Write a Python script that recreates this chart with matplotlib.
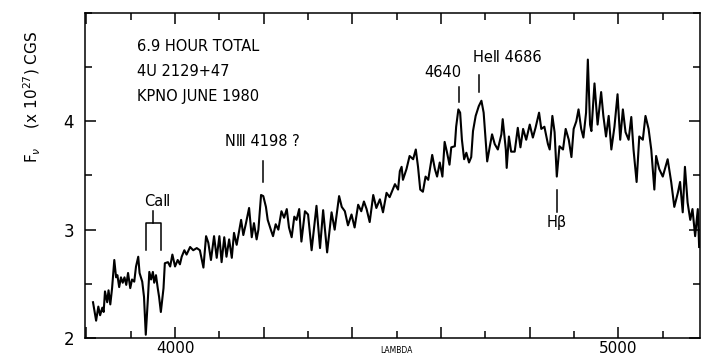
import numpy as np
import matplotlib
matplotlib.use("Agg")
import matplotlib.pyplot as plt
from matplotlib.ticker import MultipleLocator, FixedLocator

# spectrum: wavelength (A) and flux (x 1e27 cgs)
wave = [3815, 3822, 3827, 3831, 3836, 3839, 3842, 3847, 3850, 3854,
        3858, 3863, 3867, 3870, 3874, 3878, 3882, 3886, 3890, 3894,
        3899, 3903, 3908, 3912, 3917, 3920, 3926, 3930, 3934, 3939,
        3942, 3946, 3950, 3953, 3957, 3961, 3964, 3968, 3974, 3977,
        3984, 3989, 3994, 4000, 4006, 4011, 4015, 4021, 4026, 4034,
        4041, 4049, 4056, 4064, 4070, 4075, 4081, 4088, 4094, 4100,
        4105, 4111, 4116, 4122, 4128, 4133, 4139, 4149, 4154, 4160,
        4167, 4173, 4178, 4184, 4188, 4194, 4199, 4205, 4209, 4216,
        4221, 4227, 4233, 4240, 4246, 4252, 4257, 4263, 4269, 4274,
        4280, 4285, 4293, 4300, 4308, 4319, 4327, 4334, 4343, 4353,
        4360, 4370, 4376, 4383, 4390, 4398, 4405, 4413, 4420, 4426,
        4432, 4439, 4447, 4454, 4462, 4469, 4477, 4484, 4489, 4496,
        4503, 4507, 4511, 4514, 4522, 4529, 4537, 4543, 4548, 4553,
        4559, 4565, 4571, 4580, 4586, 4591, 4597, 4603, 4608, 4613,
        4619, 4623, 4631, 4634, 4639, 4643, 4647, 4652, 4657, 4663,
        4668, 4672, 4678, 4685, 4691, 4696, 4700, 4704, 4710, 4715,
        4721, 4728, 4736, 4739, 4746, 4748, 4753, 4758, 4766, 4773,
        4779, 4785, 4792, 4800, 4807, 4813, 4821, 4826, 4833, 4841,
        4845, 4851, 4856, 4861, 4867, 4875, 4881, 4888, 4894, 4899,
        4905, 4910, 4916, 4921, 4927, 4931, 4936, 4939, 4946, 4953,
        4961, 4966, 4972, 4978, 4984, 4991, 4998, 5004, 5010, 5016,
        5023, 5029, 5034, 5041, 5047, 5055, 5061, 5068, 5074, 5081,
        5085, 5092, 5100, 5111, 5119, 5126, 5134, 5139, 5145, 5150,
        5156, 5162, 5167, 5173, 5179, 5182]
flux = [2.33, 2.16, 2.29, 2.21, 2.28, 2.24, 2.43, 2.33, 2.44, 2.31,
        2.46, 2.72, 2.56, 2.58, 2.47, 2.56, 2.51, 2.56, 2.49, 2.60,
        2.46, 2.54, 2.52, 2.66, 2.75, 2.60, 2.52, 2.38, 2.03, 2.38,
        2.61, 2.54, 2.61, 2.51, 2.58, 2.46, 2.38, 2.24, 2.46, 2.69,
        2.70, 2.66, 2.77, 2.66, 2.72, 2.68, 2.75, 2.81, 2.77, 2.84,
        2.81, 2.83, 2.81, 2.65, 2.94, 2.88, 2.72, 2.94, 2.74, 2.94,
        2.70, 2.93, 2.75, 2.91, 2.74, 2.97, 2.86, 3.09, 2.95, 3.06,
        3.20, 2.93, 3.06, 2.91, 3.00, 3.32, 3.31, 3.21, 3.09, 3.00,
        2.94, 3.05, 3.00, 3.17, 3.11, 3.19, 3.02, 2.93, 3.12, 3.09,
        3.19, 2.89, 3.17, 3.14, 2.81, 3.22, 2.83, 3.18, 2.79, 3.16,
        3.00, 3.31, 3.21, 3.17, 3.04, 3.14, 3.02, 3.23, 3.17, 3.26,
        3.19, 3.07, 3.32, 3.20, 3.28, 3.16, 3.34, 3.30, 3.35, 3.42,
        3.37, 3.54, 3.58, 3.46, 3.56, 3.68, 3.65, 3.74, 3.58, 3.37,
        3.35, 3.49, 3.46, 3.69, 3.56, 3.49, 3.62, 3.49, 3.81, 3.72,
        3.60, 3.76, 3.77, 3.95, 4.11, 4.08, 3.83, 3.65, 3.71, 3.62,
        3.67, 3.91, 4.05, 4.14, 4.19, 4.08, 3.86, 3.63, 3.77, 3.88,
        3.79, 3.74, 3.88, 4.02, 3.74, 3.57, 3.86, 3.72, 3.72, 3.94,
        3.76, 3.93, 3.83, 3.97, 3.85, 3.94, 4.08, 3.93, 3.95, 3.79,
        3.74, 4.05, 3.90, 3.49, 3.77, 3.74, 3.93, 3.83, 3.67, 3.93,
        4.00, 4.11, 3.93, 3.85, 4.08, 4.57, 3.97, 3.91, 4.35, 3.97,
        4.27, 4.05, 3.86, 4.05, 3.74, 3.95, 4.25, 3.83, 4.11, 3.90,
        3.83, 4.04, 3.74, 3.44, 3.86, 3.83, 4.05, 3.93, 3.74, 3.37,
        3.68, 3.56, 3.49, 3.65, 3.44, 3.21, 3.34, 3.44, 3.16, 3.58,
        3.25, 3.09, 3.19, 2.94, 3.19, 2.84]

info_lines = ["6.9 HOUR TOTAL", "4U 2129+47", "KPNO JUNE 1980"]
ca_lines = [3934, 3968]

fig = plt.figure(figsize=(7.01, 3.58), dpi=100)
ax = fig.add_axes([0.1213, 0.0559, 0.8773, 0.9078])

ax.plot(wave, flux, color="black", lw=1.5)

ax.set_xlim(3797, 5184)
ax.set_ylim(2, 5)

ax.xaxis.set_major_locator(MultipleLocator(200))
ax.xaxis.set_minor_locator(MultipleLocator(100))
ax.yaxis.set_major_locator(FixedLocator([2, 3, 4]))
ax.yaxis.set_minor_locator(MultipleLocator(0.5))
ax.tick_params(which="both", direction="in", top=True, right=True, width=1.1)
ax.tick_params(which="major", length=8, labelsize=12)
ax.tick_params(which="minor", length=5)
ax.tick_params(axis="x", pad=2, labelsize=11)
ax.tick_params(axis="y", pad=8)
ax.xaxis.set_major_formatter(plt.FuncFormatter(
    lambda v, p: "%d" % v if v in (4000, 5000) else ""))
for s in ax.spines.values():
    s.set_linewidth(1.1)

# labels
fig.text(0.047, 0.73, r"$\mathrm{F}_\nu$    (x 10$^{27}$) CGS", rotation=90,
         ha="center", va="center", fontsize=11)
fig.text(0.565, 0.008, "LAMBDA", ha="center", va="bottom", fontsize=5.5)

for i, t in enumerate(info_lines):
    ax.text(3914, 4.69 - 0.23 * i, t, fontsize=10.5, ha="left", va="center")

# line identifications
ax.text(4198, 3.81, "NⅢ 4198 ?", fontsize=10.5, ha="center", va="center")
ax.plot([4198, 4198], [3.44, 3.63], color="black", lw=1.1)
ax.text(4604, 4.45, "4640", fontsize=10.5, ha="center", va="center")
ax.plot([4640, 4640], [4.18, 4.32], color="black", lw=1.1)
ax.text(4750, 4.59, "HeⅡ 4686", fontsize=10.5, ha="center", va="center")
ax.plot([4686, 4686], [4.27, 4.43], color="black", lw=1.1)
ax.text(4861, 3.07, "Hβ", fontsize=10.5, ha="center", va="center")
ax.plot([4861, 4861], [3.16, 3.37], color="black", lw=1.1)

ax.text(3959, 3.26, "CaⅡ", fontsize=10.5, ha="center", va="center")
ax.plot([ca_lines[0], ca_lines[0], ca_lines[1], ca_lines[1]],
        [2.81, 3.06, 3.06, 2.81], color="black", lw=1.1)
ax.plot([np.mean(ca_lines)] * 2, [3.06, 3.17], color="black", lw=1.1)

fig.savefig("out.png", dpi=100)
